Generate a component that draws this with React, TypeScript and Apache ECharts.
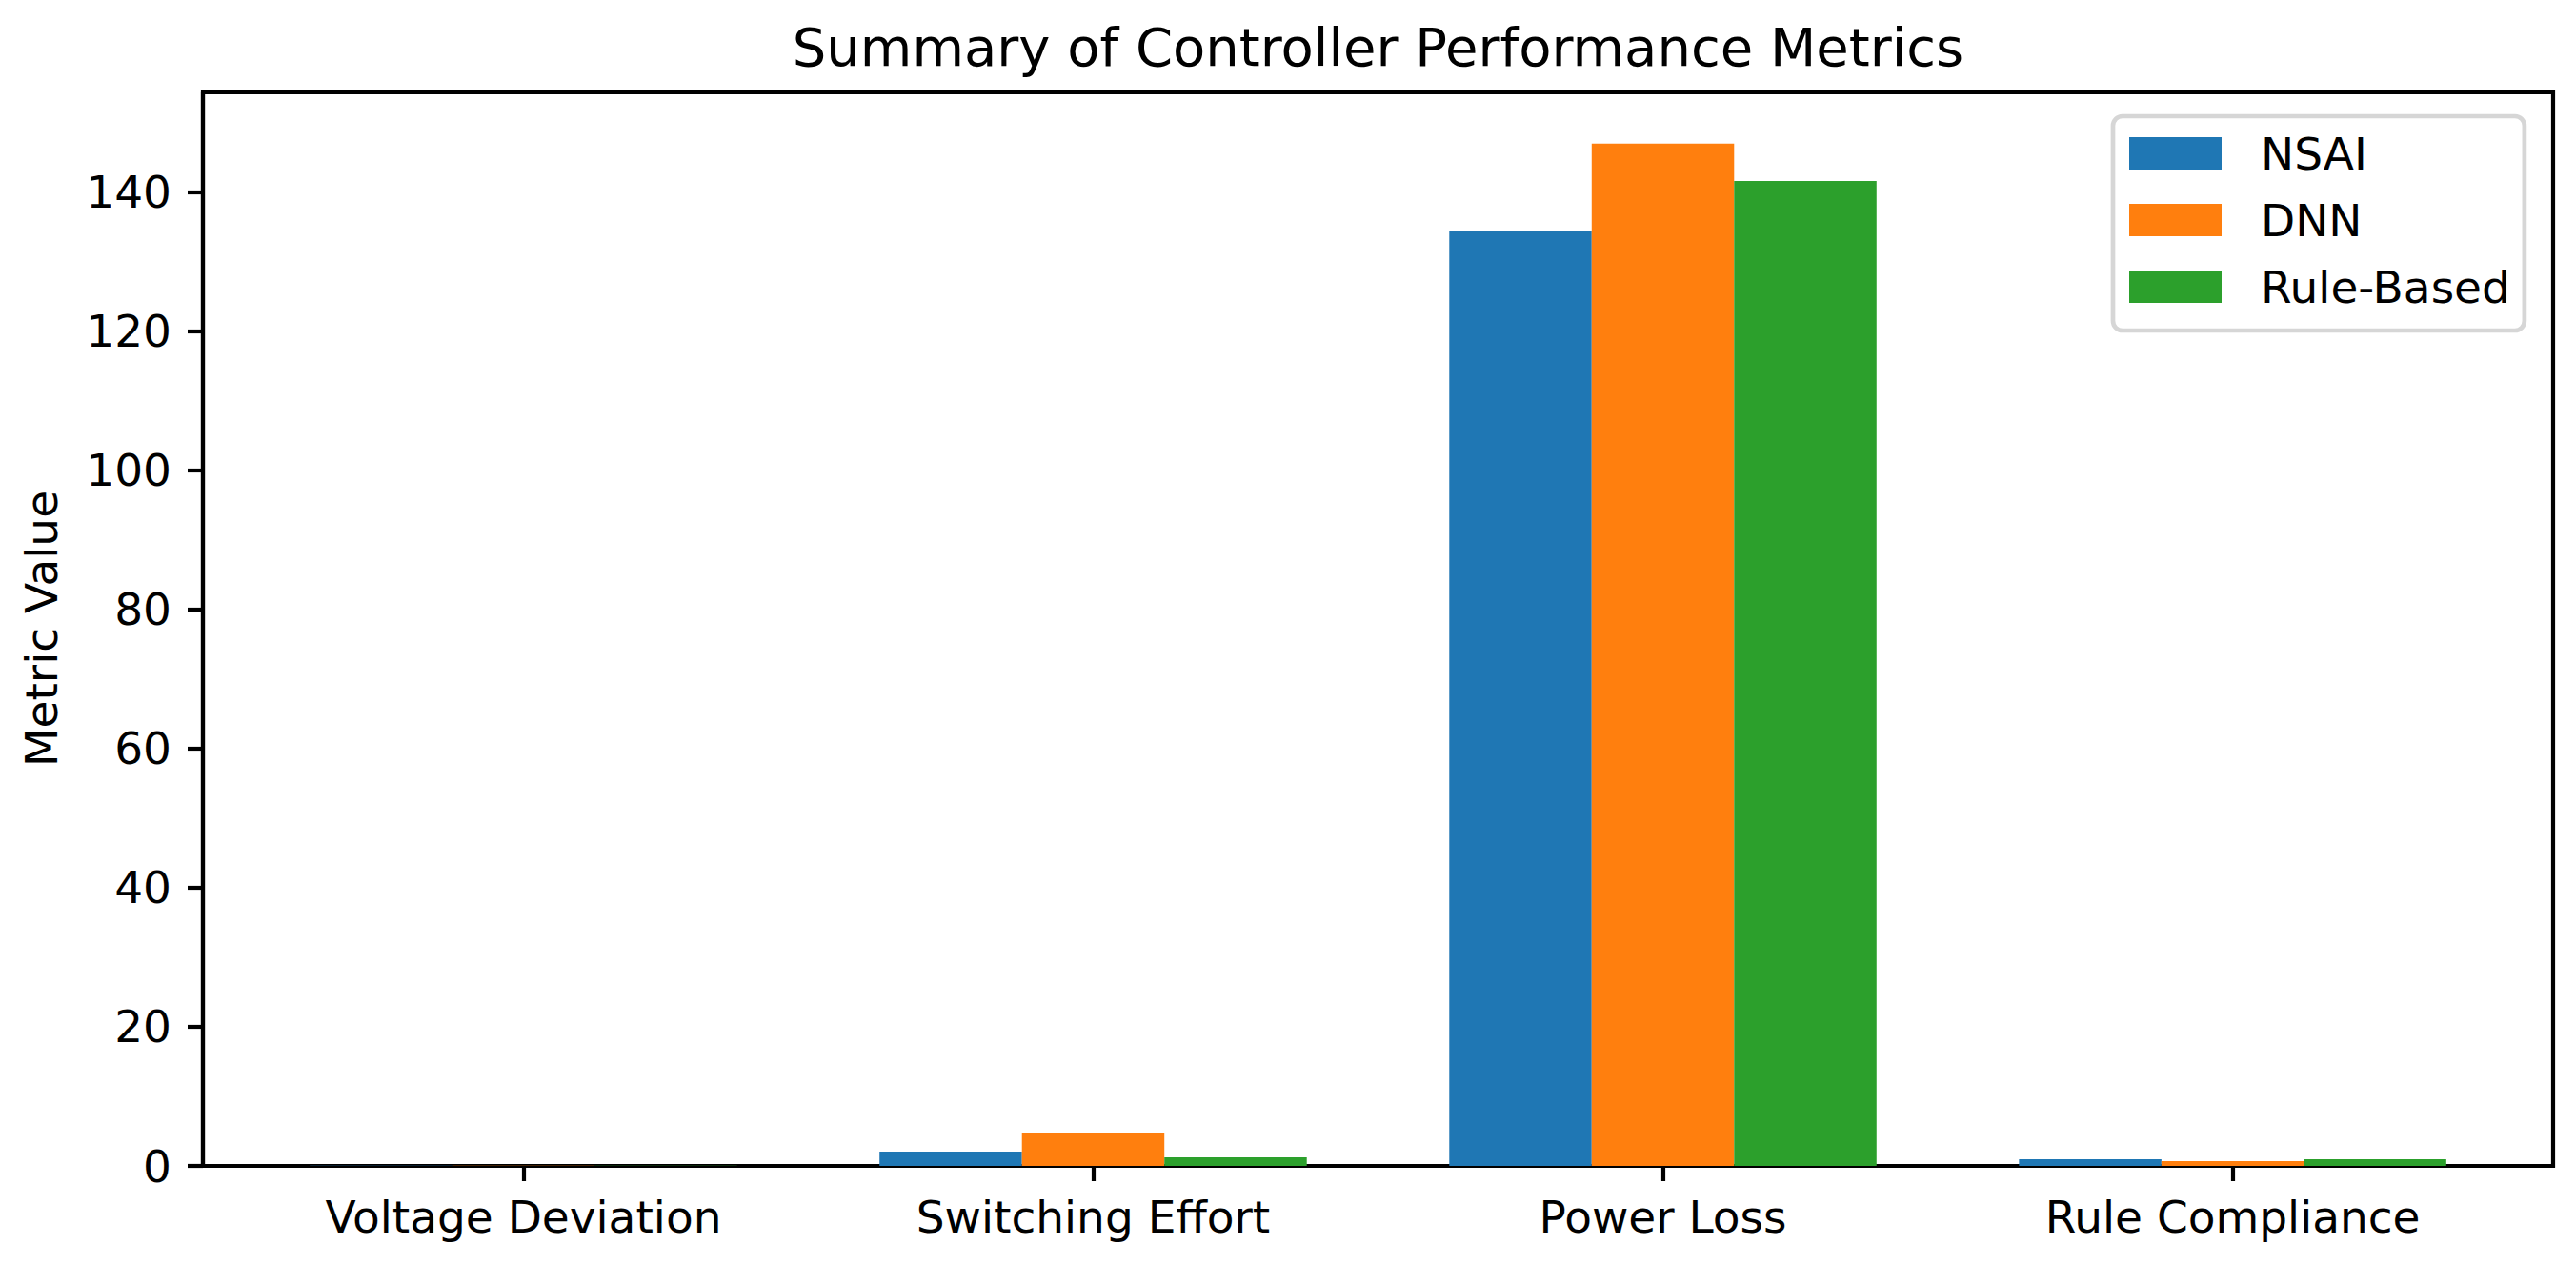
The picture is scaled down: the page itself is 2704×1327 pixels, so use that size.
import React, { useEffect, useRef } from "react";
import * as echarts from "echarts";

const categories = ["Voltage Deviation", "Switching Effort", "Power Loss", "Rule Compliance"];
const seriesNames = ["NSAI", "DNN", "Rule-Based"];
const nsaiValues = [0.02, 2.05, 134.4, 0.96];
const dnnValues = [0.03, 4.8, 147.0, 0.68];
const ruleValues = [0.02, 1.23, 141.6, 0.96];
const yTicks = [0, 20, 40, 60, 80, 100, 120, 140];
const colors = ["#1f77b4", "#ff7f0e", "#2ca02c"];

const FONT = "DejaVu Sans";
const LW = 4.2;

export default function App() {
  const ref = useRef<HTMLDivElement>(null);
  useEffect(() => {
    if (!ref.current) return;
    const chart = echarts.init(ref.current, undefined, { renderer: "svg" });
    const allValues = [nsaiValues, dnnValues, ruleValues];
    const xIdx = categories.map((_, i) => i);
    const option: any = {
      animation: false,
      backgroundColor: "#ffffff",
      textStyle: { fontFamily: FONT },
      grid: {
        left: 213,
        top: 97,
        width: 2467,
        height: 1127,
        show: true,
        borderColor: "#000000",
        borderWidth: LW,
        backgroundColor: "transparent",
        containLabel: false,
      },
      graphic: [
        {
          type: "text",
          style: {
            text: "Summary of Controller Performance Metrics",
            x: 1446.5,
            y: 49.6,
            align: "center",
            verticalAlign: "middle",
            font: `56px "${FONT}"`,
            fill: "#000000",
          },
        },
        {
          type: "text",
          x: 43.7,
          y: 660,
          rotation: Math.PI / 2,
          style: {
            text: "Metric Value",
            x: 0,
            y: 0,
            align: "center",
            verticalAlign: "middle",
            font: `47px "${FONT}"`,
            fill: "#000000",
          },
        },
      ],
      legend: {
        orient: "vertical",
        left: 2218,
        top: 122,
        icon: "rect",
        itemWidth: 97,
        itemHeight: 34,
        itemGap: 23,
        padding: [15.5, 15, 22.5, 17],
        borderColor: "rgba(204,204,204,0.8)",
        borderWidth: 4.7,
        borderRadius: 10,
        backgroundColor: "rgba(255,255,255,0.8)",
        textStyle: {
          fontSize: 47,
          lineHeight: 47,
          color: "#000000",
          fontFamily: FONT,
          padding: [0, 0, 0, 36],
        },
        data: seriesNames,
      },
      xAxis: {
        type: "value",
        min: -0.5625,
        max: 3.5625,
        splitLine: { show: false },
        axisLine: { show: true, onZero: false, lineStyle: { color: "#000000", width: LW } },
        axisTick: {
          show: true,
          length: 16,
          customValues: xIdx,
          lineStyle: { color: "#000000", width: LW },
        },
        axisLabel: {
          customValues: xIdx,
          formatter: (v: number) => categories[Math.round(v)] ?? "",
          margin: 30,
          fontSize: 47,
          lineHeight: 47,
          color: "#000000",
          fontFamily: FONT,
        },
      },
      yAxis: {
        type: "value",
        min: 0,
        max: 154.35,
        splitLine: { show: false },
        axisLine: { show: true, onZero: false, lineStyle: { color: "#000000", width: LW } },
        axisTick: {
          show: true,
          length: 16,
          customValues: yTicks,
          lineStyle: { color: "#000000", width: LW },
        },
        axisLabel: {
          customValues: yTicks,
          margin: 33,
          fontSize: 47,
          color: "#000000",
          fontFamily: FONT,
        },
      },
      series: seriesNames.map((name, s) => ({
        name,
        type: "bar",
        barWidth: 149.5,
        barGap: "0%",
        itemStyle: { color: colors[s] },
        data: allValues[s].map((v, i) => [i, v]),
      })),
    };
    chart.setOption(option);
    return () => chart.dispose();
  }, []);
  return (
    <div
      ref={ref}
      style={{ position: "absolute", left: 0, top: 0, width: 2704, height: 1327 }}
    />
  );
}
